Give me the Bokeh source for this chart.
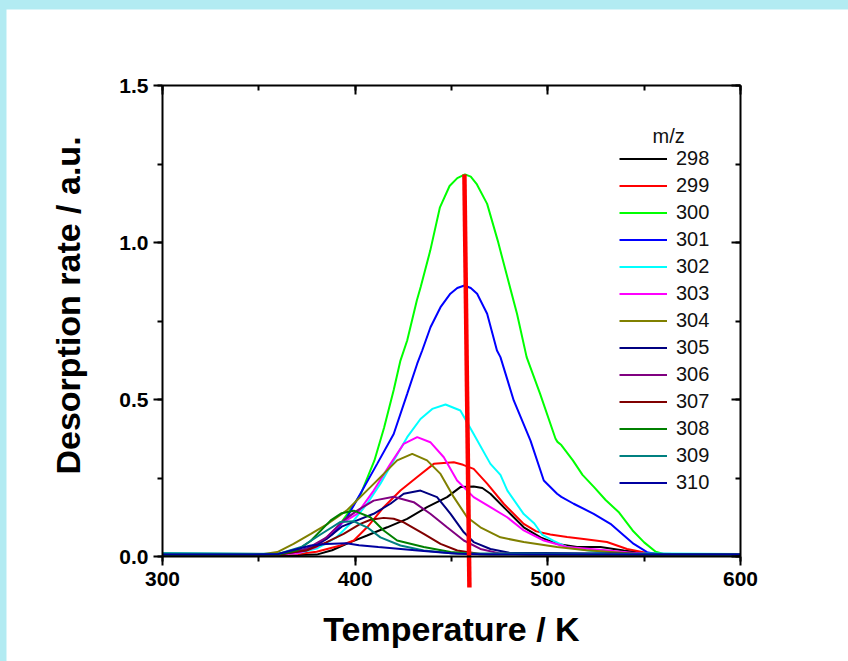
import math
from bokeh.plotting import figure
from bokeh.models import (Range1d, LinearAxis, SingleIntervalTicker, PrintfTickFormatter,
                          Legend, LegendItem, Label, GlobalInlineStyleSheet)
from bokeh.embed import file_html
from bokeh.resources import INLINE

# ---------------- data ----------------
mz_labels = ["298", "299", "300", "301", "302", "303", "304", "305", "306", "307", "308", "309", "310"]
colors = ["#000000", "#ff0000", "#00ff00", "#0000ff", "#00ffff", "#ff00ff", "#808000",
          "#000080", "#800080", "#800000", "#008000", "#008080", "#0000a0"]

T_298 = [300, 340, 370, 380, 388, 397.6, 406.2, 416.6, 427, 437.3, 447.7, 454.6, 461.5, 466, 470.2,
         478.9, 487.5, 496.2, 504.8, 515.2, 527.3, 539.4, 549.8, 560, 600]
y_298 = [0.005, 0.005, 0.005, 0.006, 0.02, 0.046, 0.067, 0.093, 0.12, 0.157, 0.189, 0.221, 0.223, 0.218, 0.2,
         0.146, 0.093, 0.061, 0.04, 0.03, 0.03, 0.019, 0.011, 0.006, 0.006]

T_299 = [300, 350, 370, 380, 392.4, 399.3, 406.2, 414.8, 423.5, 432.2, 440.8, 446, 451.2, 456, 461.5,
         468.5, 477.1, 487.5, 494, 501.3, 510, 518.6, 530.7, 541.1, 551.5, 560, 600]
y_299 = [0.005, 0.005, 0.008, 0.015, 0.035, 0.051, 0.093, 0.157, 0.21, 0.253, 0.295, 0.298, 0.30, 0.292, 0.279,
         0.232, 0.168, 0.104, 0.08, 0.07, 0.062, 0.056, 0.046, 0.024, 0.011, 0.006, 0.006]

T_300 = [300, 340, 360, 370, 380, 390, 396, 403, 410, 415, 420, 423.5, 427, 432, 434, 439, 444, 449, 453,
         457, 460, 463, 468.5, 474, 479, 484, 489, 496, 504, 505, 507, 513, 518, 524, 530, 537, 544, 550,
         556, 560, 580, 600]
y_300 = [0.005, 0.005, 0.008, 0.015, 0.035, 0.085, 0.136, 0.2, 0.306, 0.41, 0.53, 0.624, 0.688, 0.815, 0.858,
         0.975, 1.112, 1.18, 1.205, 1.217, 1.21, 1.187, 1.123, 1.006, 0.889, 0.773, 0.635, 0.518, 0.375, 0.365,
         0.355, 0.306, 0.26, 0.221, 0.18, 0.14, 0.083, 0.045, 0.015, 0.008, 0.008, 0.008]

T_301 = [300, 340, 360, 370, 380, 388, 395.8, 402.7, 411.4, 420, 427, 432.2, 434.8, 439.1, 444.3, 449.4, 453,
         456.7, 460, 463.3, 468.5, 473.6, 475.4, 482.3, 491, 497.9, 504.8, 507, 513.4, 523.8, 532.5, 538,
         544.6, 551.5, 556, 600]
y_301 = [0.005, 0.006, 0.008, 0.015, 0.035, 0.07, 0.125, 0.2, 0.295, 0.39, 0.518, 0.614, 0.656, 0.73, 0.794,
         0.837, 0.855, 0.863, 0.855, 0.837, 0.773, 0.656, 0.635, 0.497, 0.369, 0.242, 0.2, 0.19, 0.168, 0.136,
         0.104, 0.075, 0.04, 0.014, 0.008, 0.008]

T_302 = [300, 350, 370, 380, 390, 399.3, 406.2, 413.1, 420, 427, 433.9, 440, 446.9, 454.6, 461.5, 470.2, 475.4,
         479, 487.5, 493, 497, 503, 510, 525, 540, 600]
y_302 = [0.01, 0.008, 0.01, 0.025, 0.06, 0.115, 0.168, 0.232, 0.306, 0.38, 0.438, 0.47, 0.484, 0.465, 0.39,
         0.295, 0.26, 0.21, 0.135, 0.105, 0.07, 0.05, 0.03, 0.015, 0.01, 0.008]

T_303 = [300, 350, 370, 380, 392.4, 401, 409.6, 418.3, 425.2, 432.2, 439, 446, 452.9, 461.5, 470.2, 478.9,
         487.5, 497.9, 510, 530, 550, 600]
y_303 = [0.005, 0.005, 0.01, 0.03, 0.104, 0.136, 0.21, 0.295, 0.359, 0.38, 0.364, 0.316, 0.242, 0.189, 0.157,
         0.125, 0.083, 0.051, 0.03, 0.02, 0.008, 0.006]

T_304 = [300, 350, 359.6, 368, 377, 386, 395.5, 407.9, 414.8, 421.8, 429.6, 437.3, 444.3, 451.2, 458.1, 465,
         475.4, 487.5, 504.8, 520, 545.5, 600]
y_304 = [0.005, 0.006, 0.014, 0.04, 0.072, 0.105, 0.146, 0.221, 0.263, 0.306, 0.327, 0.306, 0.263, 0.189,
         0.125, 0.093, 0.061, 0.046, 0.03, 0.02, 0.009, 0.006]

T_305 = [300, 360, 375, 385, 393, 401, 409.6, 418.3, 425.2, 433.9, 442.5, 449.5, 456.4, 461.5, 470.2, 480, 600]
y_305 = [0.005, 0.006, 0.02, 0.055, 0.095, 0.115, 0.136, 0.168, 0.2, 0.21, 0.189, 0.136, 0.077, 0.046, 0.024,
         0.012, 0.006]

T_306 = [300, 360, 375, 385, 394, 401, 409.6, 420, 430.4, 439, 447.7, 456.4, 465, 475, 490, 600]
y_306 = [0.005, 0.006, 0.025, 0.06, 0.115, 0.146, 0.178, 0.19, 0.173, 0.136, 0.093, 0.051, 0.024, 0.01, 0.006,
         0.005]

T_307 = [300, 360, 375, 385, 394, 402.7, 408, 414.8, 420, 425.2, 435.6, 444.3, 453, 465, 600]
y_307 = [0.005, 0.006, 0.02, 0.045, 0.072, 0.104, 0.117, 0.123, 0.12, 0.109, 0.072, 0.04, 0.019, 0.008, 0.005]

T_308 = [300, 360, 370, 377, 387.3, 393, 399.3, 407.9, 414.8, 421.8, 435.6, 449.5, 465, 600]
y_308 = [0.005, 0.006, 0.02, 0.05, 0.115, 0.138, 0.146, 0.125, 0.083, 0.051, 0.03, 0.014, 0.007, 0.005]

T_309 = [300, 360, 372, 382, 392.4, 399.3, 406.2, 413.1, 423.5, 435.6, 450, 600]
y_309 = [0.01, 0.008, 0.03, 0.07, 0.11, 0.112, 0.093, 0.061, 0.035, 0.019, 0.01, 0.006]

T_310 = [300, 345, 360, 377, 385, 395.5, 402, 412, 432.5, 453, 470, 600]
y_310 = [0.006, 0.006, 0.008, 0.035, 0.04, 0.042, 0.036, 0.03, 0.019, 0.009, 0.006, 0.006]

series_T = [T_298, T_299, T_300, T_301, T_302, T_303, T_304, T_305, T_306, T_307, T_308, T_309, T_310]
series_y = [y_298, y_299, y_300, y_301, y_302, y_303, y_304, y_305, y_306, y_307, y_308, y_309, y_310]

# red peak-shift guide line (T, rate) at its two ends; it runs below the x axis
guide_T = [456.7, 459.3]
guide_y = [1.217, -0.099]

x_limits = (300, 600)
y_limits = (0, 1.5)
x_label = "Temperature / K"
y_label = "Desorption rate / a.u."
legend_title = "m/z"

FONT = "Liberation Sans"

# ---------------- figure ----------------
# The frame spans the whole canvas so the guide line can run below the x axis;
# the four axes are pinned to the data box with fixed_location and bounds.
W, H = 842, 652
BOX_L, BOX_R, BOX_T, BOX_B = 156, 734, 76, 547      # data box inside the canvas (px)
kx = (BOX_R - BOX_L) / (x_limits[1] - x_limits[0])
ky = (BOX_B - BOX_T) / (y_limits[1] - y_limits[0])
xr = Range1d(x_limits[0] - BOX_L / kx, x_limits[1] + (W - BOX_R) / kx)
yr = Range1d(y_limits[0] - (H - BOX_B) / ky, y_limits[1] + BOX_T / ky)


def px_to_x(px):
    return xr.start + px / kx


def px_to_y(py):
    return yr.end - py / ky


p = figure(width=W, height=H, output_backend="svg", toolbar_location=None,
           x_range=xr, y_range=yr, x_axis_type=None, y_axis_type=None,
           min_border=0, background_fill_color="white", border_fill_color="white")
p.grid.visible = False
p.outline_line_color = None

p.stylesheets = [GlobalInlineStyleSheet(
    css="html, body{background:#b2ebf2 !important;overflow:hidden !important;}"
        "body{padding:9px 0 0 6px !important;margin:0 !important;}")]


def make_axis(interval, loc, bounds, tick_in, tick_out, minor_in, minor_out, labels=True):
    ax = LinearAxis(ticker=SingleIntervalTicker(interval=interval, num_minor_ticks=2),
                    fixed_location=loc, bounds=bounds)
    ax.axis_line_color = "black"
    ax.axis_line_width = 2
    ax.major_tick_line_width = 2
    ax.minor_tick_line_width = 2
    ax.major_tick_in = tick_in
    ax.major_tick_out = tick_out
    ax.minor_tick_in = minor_in
    ax.minor_tick_out = minor_out
    ax.major_label_text_font = FONT
    ax.major_label_text_font_style = "bold"
    ax.major_label_text_font_size = "21px"
    ax.major_label_text_color = "black" if labels else None
    ax.axis_label_text_font = FONT
    ax.axis_label_text_font_style = "bold"
    ax.axis_label_text_font_size = "34px"
    ax.axis_label_text_color = "black"
    return ax


bottom = make_axis(100, y_limits[0], x_limits, 0, 9, 0, 5)
bottom.axis_label = x_label
bottom.major_label_standoff = 6
bottom.axis_label_standoff = 21
p.add_layout(bottom, "below")

left = make_axis(0.5, x_limits[0], y_limits, 0, 9, 0, 5)
left.formatter = PrintfTickFormatter(format="%.1f")
left.major_label_standoff = 5
p.add_layout(left, "left")

top = make_axis(100, y_limits[1], x_limits, 9, 0, 5, 0, labels=False)
p.add_layout(top, "above")
right = make_axis(0.5, x_limits[1], y_limits, 9, 0, 5, 0, labels=False)
p.add_layout(right, "right")

# y axis title (sits a little above the middle of the axis, as in the original)
ylab = Label(x=px_to_x(61), y=px_to_y(296), text=y_label, angle=math.pi / 2,
             text_align="center", text_baseline="middle", text_font=FONT,
             text_font_style="bold", text_font_size="34px", text_color="black")
p.add_layout(ylab)

items = []
for lab, col, T, y in zip(mz_labels, colors, series_T, series_y):
    r = p.line(T, y, line_color=col, line_width=2)
    items.append(LegendItem(label=lab, renderers=[r]))

p.line(guide_T, guide_y, line_color="#ff0000", line_width=4.5)

legend = Legend(items=items, location=(613, 167), border_line_color=None, background_fill_alpha=0,
                padding=0, margin=0, spacing=4, label_height=23, glyph_height=23, glyph_width=48,
                label_standoff=9, label_text_font=FONT, label_text_font_size="20px",
                label_text_color="#111111")
p.add_layout(legend)

title_lbl = Label(x=px_to_x(646), y=px_to_y(126), text=legend_title, text_baseline="middle",
                  text_align="left", text_font=FONT, text_font_size="20px", text_color="#111111")
p.add_layout(title_lbl)

open("out.html", "w").write(file_html(p, INLINE))
